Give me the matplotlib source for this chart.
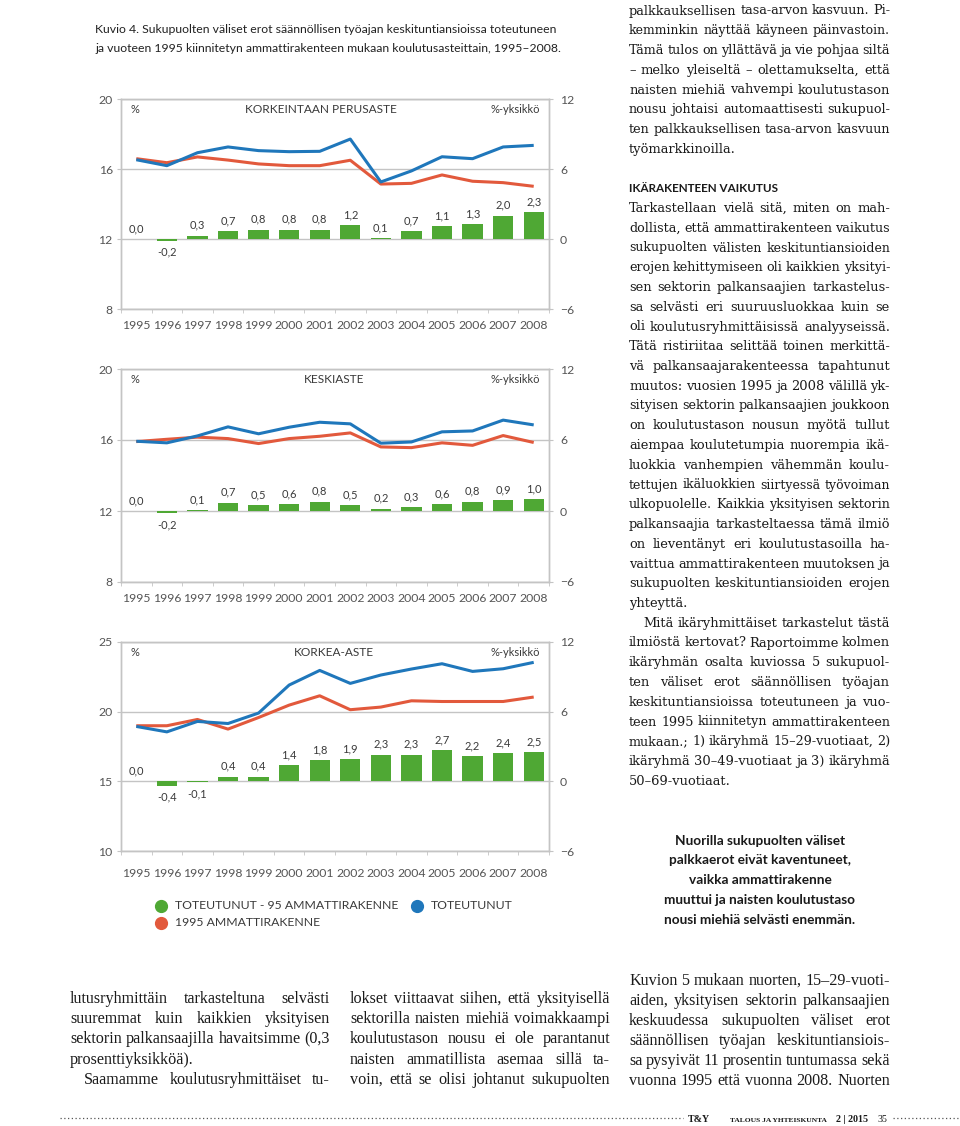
import numpy as np
import matplotlib
matplotlib.use("Agg")
import matplotlib.pyplot as plt
from matplotlib.lines import Line2D

# Chart data
years = [str(y) for y in range(1995, 2009)]

perus_toteutunut = [16.53, 16.19, 16.93, 17.26, 17.05, 16.99, 17.01, 17.71, 15.26, 15.89, 16.70, 16.59, 17.26, 17.35]
perus_1995 = [16.59, 16.36, 16.69, 16.51, 16.29, 16.19, 16.19, 16.50, 15.14, 15.18, 15.66, 15.30, 15.22, 15.01]
perus_ero = [0.0, -0.2, 0.3, 0.7, 0.8, 0.8, 0.8, 1.2, 0.1, 0.7, 1.1, 1.3, 2.0, 2.3]

keski_toteutunut = [15.93, 15.84, 16.23, 16.74, 16.35, 16.72, 17.00, 16.91, 15.82, 15.89, 16.46, 16.51, 17.12, 16.85]
keski_1995 = [15.91, 16.04, 16.16, 16.08, 15.80, 16.08, 16.21, 16.40, 15.61, 15.57, 15.84, 15.70, 16.25, 15.86]
keski_ero = [0.0, -0.2, 0.1, 0.7, 0.5, 0.6, 0.8, 0.5, 0.2, 0.3, 0.6, 0.8, 0.9, 1.0]

korkea_toteutunut = [18.94, 18.55, 19.30, 19.15, 19.90, 21.91, 22.96, 22.03, 22.63, 23.06, 23.44, 22.89, 23.08, 23.54]
korkea_1995 = [18.99, 18.99, 19.44, 18.75, 19.58, 20.47, 21.14, 20.14, 20.33, 20.78, 20.73, 20.73, 20.73, 21.05]
korkea_ero = [0.0, -0.4, -0.1, 0.4, 0.4, 1.4, 1.8, 1.9, 2.3, 2.3, 2.7, 2.2, 2.4, 2.5]

legend_labels = ["TOTEUTUNUT - 95 AMMATTIRAKENNE", "1995 AMMATTIRAKENNE", "TOTEUTUNUT"]

BLUE = "#1f77bb"
RED = "#e2593c"
GREEN = "#4fa834"
GRID = "#c4c4c4"
TXT = "#3a3a3a"
SANS = ["Lato", "DejaVu Sans"]
SERIF = ["DejaVu Serif"]
SERIF2 = ["Liberation Serif", "DejaVu Serif"]

W, H = 960, 1126
fig = plt.figure(figsize=(W / 100, H / 100), dpi=100)
renderer = fig.canvas.get_renderer()


def fx(x):
    return x / W


def fy(y):
    return 1 - y / H


def panel(top, bottom, ylo, yhi, title, title_x, toteutunut, ammatti95, ero, xpad):
    ax = fig.add_axes([fx(121), fy(bottom), 428 / W, (bottom - top) / H])
    x = np.arange(len(years))
    ax.set_xlim(-0.5, len(years) - 0.5)
    ax.set_ylim(ylo, yhi)
    ax.set_yticks(np.linspace(ylo, yhi, 4))
    ax.set_yticklabels([f"{v:g}" for v in np.linspace(ylo, yhi, 4)])
    ax.grid(axis="y", color=GRID, lw=1)
    ax.set_axisbelow(True)
    ax.set_xticks(x)
    ax.set_xticklabels(years)
    ax.set_xticks(np.arange(-0.5, len(years)), minor=True)
    ax.tick_params(axis="x", which="major", length=0, pad=xpad, labelsize=8.8, labelcolor="#555555")
    ax.tick_params(axis="x", which="minor", length=3, color=GRID, direction="out")
    ax.tick_params(axis="y", length=3, color=GRID, pad=3, labelsize=8.8, labelcolor="#555555")
    for lab in ax.get_xticklabels() + ax.get_yticklabels():
        lab.set_family(SANS)

    ax2 = ax.twinx()
    ax2.set_ylim(-6, 12)
    ax2.set_yticks([-6, 0, 6, 12])
    ax2.tick_params(axis="y", length=3, color=GRID, pad=5, labelsize=8.8, labelcolor="#555555")
    for lab in ax2.get_yticklabels():
        lab.set_family(SANS)
    for a in (ax, ax2):
        for s in a.spines.values():
            s.set_color(GRID)
            s.set_linewidth(1)

    ax.plot(x, ammatti95, color=RED, lw=2.2, solid_capstyle="butt")
    ax.plot(x, toteutunut, color=BLUE, lw=2.2, solid_capstyle="butt")
    ax2.bar(x, ero, width=0.66, color=GREEN)
    for i, v in enumerate(ero):
        s = f"{v:.1f}".replace(".", ",")
        if v >= 0:
            ax2.annotate(s, (i, v), xytext=(0, 3.5), textcoords="offset points",
                         ha="center", va="bottom", fontsize=8, color=TXT, family=SANS)
        else:
            ax2.annotate(s, (i, v), xytext=(0, -4), textcoords="offset points",
                         ha="center", va="top", fontsize=8, color=TXT, family=SANS)

    ty = 1 - 10.5 / (bottom - top)
    ax.text(0.023, ty, "%", transform=ax.transAxes, fontsize=8, color=TXT, family=SANS, va="center")
    ax.text(title_x, ty, title, transform=ax.transAxes, fontsize=8.6, color=TXT, family=SANS,
            ha="center", va="center")
    ax.text(0.98, ty, "%-yksikkö", transform=ax.transAxes, fontsize=8, color=TXT, family=SANS,
            ha="right", va="center")
    return ax


panel(99, 309, 8, 20, "KORKEINTAAN PERUSASTE", 0.468, perus_toteutunut, perus_1995, perus_ero, 8)
panel(369, 582, 8, 20, "KESKIASTE", 0.498, keski_toteutunut, keski_1995, keski_ero, 8)
panel(642, 851, 10, 25, "KORKEA-ASTE", 0.498, korkea_toteutunut, korkea_1995, korkea_ero, 12)

# legend
for (x0, y0), col, lab in zip([(161, 905.7), (161, 922.7), (416.7, 905.7)], [GREEN, RED, BLUE], legend_labels):
    fig.add_artist(Line2D([fx(x0)], [fy(y0)], marker="o", ms=8.5, color=col, lw=0, transform=fig.transFigure))
    fig.text(fx(x0 + 14), fy(y0), lab, fontsize=8.8, color=TXT, family=SANS, va="center")

# figure title
fig.text(fx(95), fy(33), "Kuvio 4. Sukupuolten väliset erot säännöllisen työajan keskituntiansioissa toteutuneen",
         fontsize=8.8, color="#222222", family=SANS, va="baseline")
fig.text(fx(95), fy(52), "ja vuoteen 1995 kiinnitetyn ammattirakenteen mukaan koulutusasteittain, 1995–2008.",
         fontsize=8.8, color="#222222", family=SANS, va="baseline")


def put_line(text, x0, x1, y, size, family, justify=True):
    words = text.split(" ")
    if not justify or len(words) == 1:
        fig.text(fx(x0), fy(y), text, fontsize=size, family=family, color="#1a1a1a", va="baseline")
        return
    # shrink a tight line a little so that the word gaps stay readable
    while True:
        arts = [fig.text(0, fy(y), w, fontsize=size, family=family, color="#1a1a1a", va="baseline")
                for w in words]
        widths = [a.get_window_extent(renderer).width for a in arts]
        gap = (x1 - x0 - sum(widths)) / (len(words) - 1)
        if gap >= 3 or size < 7:
            break
        for a in arts:
            a.remove()
        size *= 0.98
    x = x0
    for a, w in zip(arts, widths):
        a.set_x(fx(x))
        x += w + gap


def column(lines, x0, x1, y0, dy, size, family):
    for k, line in enumerate(lines):
        if line is None:
            continue
        just = not line.endswith("$")
        line = line.rstrip("$")
        xs = x0
        if line.startswith(">"):
            line = line[1:]
            xs = x0 + 14
        put_line(line, xs, x1, y0 + k * dy, size, family, just)


right_col = [
    "palkkauksellisen tasa-arvon kasvuun. Pi-",
    "kemminkin näyttää käyneen päinvastoin.",
    "Tämä tulos on yllättävä ja vie pohjaa siltä",
    "– melko yleiseltä – olettamukselta, että",
    "naisten miehiä vahvempi koulutustason",
    "nousu johtaisi automaattisesti sukupuol-",
    "ten palkkauksellisen tasa-arvon kasvuun",
    "työmarkkinoilla.$",
    None,
    None,
    "Tarkastellaan vielä sitä, miten on mah-",
    "dollista, että ammattirakenteen vaikutus",
    "sukupuolten välisten keskituntiansioiden",
    "erojen kehittymiseen oli kaikkien yksityi-",
    "sen sektorin palkansaajien tarkastelus-",
    "sa selvästi eri suuruusluokkaa kuin se",
    "oli koulutusryhmittäisissä analyyseissä.",
    "Tätä ristiriitaa selittää toinen merkittä-",
    "vä palkansaajarakenteessa tapahtunut",
    "muutos: vuosien 1995 ja 2008 välillä yk-",
    "sityisen sektorin palkansaajien joukkoon",
    "on koulutustason nousun myötä tullut",
    "aiempaa koulutetumpia nuorempia ikä-",
    "luokkia vanhempien vähemmän koulu-",
    "tettujen ikäluokkien siirtyessä työvoiman",
    "ulkopuolelle. Kaikkia yksityisen sektorin",
    "palkansaajia tarkasteltaessa tämä ilmiö",
    "on lieventänyt eri koulutustasoilla ha-",
    "vaittua ammattirakenteen muutoksen ja",
    "sukupuolten keskituntiansioiden erojen",
    "yhteyttä.$",
    ">Mitä ikäryhmittäiset tarkastelut tästä",
    "ilmiöstä kertovat? Raportoimme kolmen",
    "ikäryhmän osalta kuviossa 5 sukupuol-",
    "ten väliset erot säännöllisen työajan",
    "keskituntiansioissa toteutuneen ja vuo-",
    "teen 1995 kiinnitetyn ammattirakenteen",
    "mukaan.; 1) ikäryhmä 15–29-vuotiaat, 2)",
    "ikäryhmä 30–49-vuotiaat ja 3) ikäryhmä",
    "50–69-vuotiaat.$",
]
column(right_col, 629, 890, 14.5, 19.75, 9.4, SERIF)
fig.text(fx(629), fy(192), "IKÄRAKENTEEN VAIKUTUS", fontsize=8.4, weight="bold", family=SANS,
         color="#1a1a1a", va="baseline")

quote = ["Nuorilla sukupuolten väliset", "palkkaerot eivät kaventuneet,", "vaikka ammattirakenne",
         "muuttui ja naisten koulutustaso", "nousi miehiä selvästi enemmän."]
for k, q in enumerate(quote):
    fig.text(fx(760), fy(840.7 + k * 19.8), q, fontsize=9.8, weight="bold", family=SANS,
             color="#1a1a1a", ha="center", va="center")

col1 = ["lutusryhmittäin tarkasteltuna selvästi", "suuremmat kuin kaikkien yksityisen",
        "sektorin palkansaajilla havaitsimme (0,3", "prosenttiyksikköä).$", ">Saamamme koulutusryhmittäiset tu-"]
col2 = ["lokset viittaavat siihen, että yksityisellä", "sektorilla naisten miehiä voimakkaampi",
        "koulutustason nousu ei ole parantanut", "naisten ammatillista asemaa sillä ta-",
        "voin, että se olisi johtanut sukupuolten"]
col3 = ["Kuvion 5 mukaan nuorten, 15–29-vuoti-", "aiden, yksityisen sektorin palkansaajien",
        "keskuudessa sukupuolten väliset erot", "säännöllisen työajan keskituntiansiois-",
        "sa pysyivät 11 prosentin tuntumassa sekä", "vuonna 1995 että vuonna 2008. Nuorten"]
column(col1, 70, 330, 1003, 20.2, 11.6, SERIF2)
column(col2, 350, 610, 1003, 20.2, 11.6, SERIF2)
column(col3, 629, 890, 985, 20.0, 11.6, SERIF2)

# footer: pieces placed one after another
fig.add_artist(Line2D([fx(60), fx(683)], [fy(1118), fy(1118)], ls=(0, (1, 2)), color="#555555", lw=0.9,
                      transform=fig.transFigure))
pieces = [("T&Y", 7.2, "bold", 20), ("TALOUS JA YHTEISKUNTA", 5.4, "bold", 9),
          ("2 | 2015", 7.2, "bold", 9), ("35", 7.2, "normal", 6)]
xpos = 688
for txt, size, wt, gap in pieces:
    t = fig.text(fx(xpos), fy(1122), txt, fontsize=size, weight=wt, family=SERIF2, color="#1a1a1a",
                 va="baseline")
    xpos += t.get_window_extent(renderer).width + gap
fig.add_artist(Line2D([fx(xpos), fx(960)], [fy(1118), fy(1118)], ls=(0, (1, 2)), color="#555555", lw=0.9,
                      transform=fig.transFigure))

fig.savefig("out.png", dpi=100)
